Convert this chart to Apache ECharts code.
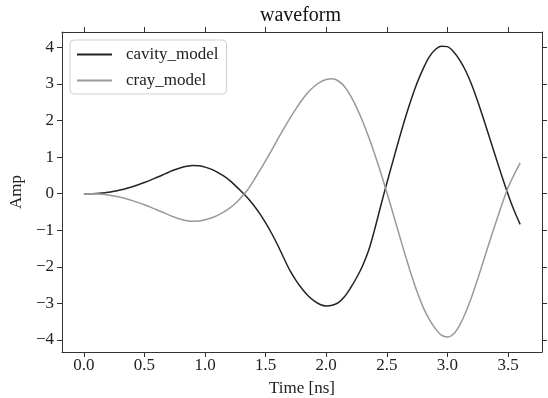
<!DOCTYPE html>
<html>
<head>
<meta charset="utf-8">
<script src="https://cdn.jsdelivr.net/npm/echarts@6/dist/echarts.min.js"></script>
<style>
  html, body { margin: 0; padding: 0; background: #fff; }
  #container { width: 548px; height: 398px; }
</style>
</head>
<body>
<div id="container"></div>
<script>
// 时间轴 (ns), 每 0.05 ns 一个点
var timeNs = [0.00, 0.05, 0.10, 0.15, 0.20, 0.25, 0.30, 0.35, 0.40, 0.45,
              0.50, 0.55, 0.60, 0.65, 0.70, 0.75, 0.80, 0.85, 0.90, 0.95,
              1.00, 1.05, 1.10, 1.15, 1.20, 1.25, 1.30, 1.35, 1.40, 1.45,
              1.50, 1.55, 1.60, 1.65, 1.70, 1.75, 1.80, 1.85, 1.90, 1.95,
              2.00, 2.05, 2.10, 2.15, 2.20, 2.25, 2.30, 2.35, 2.40, 2.45,
              2.50, 2.55, 2.60, 2.65, 2.70, 2.75, 2.80, 2.85, 2.90, 2.95,
              3.00, 3.05, 3.10, 3.15, 3.20, 3.25, 3.30, 3.35, 3.40, 3.45,
              3.50, 3.55, 3.60];
var cavityModel = [0.0, 0.0, 0.005, 0.015, 0.035, 0.065, 0.10, 0.14, 0.19, 0.245,
                   0.305, 0.37, 0.44, 0.51, 0.585, 0.655, 0.71, 0.75, 0.77, 0.76,
                   0.725, 0.67, 0.59, 0.49, 0.37, 0.22, 0.06, -0.11, -0.31, -0.54,
                   -0.80, -1.09, -1.41, -1.76, -2.10, -2.37, -2.60, -2.79, -2.93, -3.03,
                   -3.07, -3.05, -2.98, -2.82, -2.58, -2.30, -1.97, -1.55, -0.97, -0.33,
                   0.29, 0.89, 1.48, 2.05, 2.57, 3.03, 3.42, 3.74, 3.94, 4.03,
                   4.02, 3.88, 3.66, 3.36, 2.98, 2.52, 2.02, 1.50, 0.98, 0.47,
                   -0.02, -0.46, -0.84];
var crayModel = [0.0, 0.0, -0.005, -0.015, -0.035, -0.065, -0.10, -0.14, -0.19, -0.245,
                 -0.305, -0.37, -0.44, -0.51, -0.58, -0.645, -0.70, -0.74, -0.755, -0.745,
                 -0.715, -0.665, -0.60, -0.51, -0.40, -0.27, -0.10, 0.10, 0.35, 0.62,
                 0.90, 1.19, 1.49, 1.78, 2.06, 2.32, 2.56, 2.77, 2.93, 3.05,
                 3.12, 3.14, 3.08, 2.93, 2.68, 2.36, 1.98, 1.55, 1.08, 0.57,
                 0.03, -0.53, -1.10, -1.66, -2.20, -2.69, -3.11, -3.44, -3.69, -3.87,
                 -3.92, -3.84, -3.60, -3.25, -2.82, -2.33, -1.81, -1.29, -0.78, -0.29,
                 0.17, 0.52, 0.84];
var xTicks = [0.0, 0.5, 1.0, 1.5, 2.0, 2.5, 3.0, 3.5];
var yTicks = [-4, -3, -2, -1, 0, 1, 2, 3, 4];

var font = "'Liberation Serif', 'DejaVu Serif', serif";
var axisColor = '#333';

function pairs(xs, ys) {
    var res = [];
    for (var i = 0; i < xs.length; i++) {
        res.push([xs[i], ys[i]]);
    }
    return res;
}

// 坐标轴 (上下左右都画刻度)
function xAxisOf(pos, showLabel) {
    return {
        type: 'value',
        position: pos,
        min: -0.18,
        max: 3.78,
        name: showLabel ? 'Time [ns]' : '',
        nameLocation: 'middle',
        nameGap: 28,
        nameTextStyle: { fontFamily: font, fontSize: 17, color: '#222' },
        axisLine: { show: true, onZero: false, lineStyle: { color: axisColor, width: 1 } },
        axisTick: { show: true, length: 5, customValues: xTicks, lineStyle: { color: axisColor } },
        axisLabel: {
            show: showLabel,
            customValues: xTicks,
            margin: 5,
            fontFamily: font,
            fontSize: 17,
            color: '#222',
            formatter: function (v) { return v.toFixed(1); }
        },
        splitLine: { show: false }
    };
}

function yAxisOf(pos, showLabel) {
    return {
        type: 'value',
        position: pos,
        min: -4.33,
        max: 4.42,
        name: showLabel ? 'Amp' : '',
        nameLocation: 'middle',
        nameGap: 31,
        nameTextStyle: { fontFamily: font, fontSize: 17, color: '#222' },
        axisLine: { show: true, onZero: false, lineStyle: { color: axisColor, width: 1 } },
        axisTick: { show: true, length: 5, customValues: yTicks, lineStyle: { color: axisColor } },
        axisLabel: {
            show: showLabel,
            customValues: yTicks,
            margin: 8,
            fontFamily: font,
            fontSize: 17,
            color: '#222',
            formatter: function (v) { return String(v).replace('-', '\u2212'); }
        },
        splitLine: { show: false }
    };
}

var myChart = echarts.init(document.getElementById('container'));
var option = {
    backgroundColor: '#fff',
    animation: false,
    title: {
        text: 'waveform',
        left: 260,
        top: 6,
        padding: 0,
        textStyle: { fontFamily: font, fontSize: 20, fontWeight: 'normal', color: '#111' }
    },
    legend: {
        orient: 'vertical',
        left: 70,
        top: 40,
        padding: [6, 8, 5, 7],
        itemGap: 9,
        itemWidth: 35,
        itemHeight: 2,
        icon: 'rect',
        backgroundColor: '#fff',
        borderColor: '#d0d0d0',
        borderWidth: 1,
        borderRadius: 4,
        textStyle: { fontFamily: font, fontSize: 17, color: '#222', padding: [0, 0, 0, 9] },
        data: ['cavity_model', 'cray_model']
    },
    grid: {
        left: 62,
        right: 6,
        top: 32,
        bottom: 46,
        outerBoundsMode: 'none'
    },
    xAxis: [xAxisOf('bottom', true), xAxisOf('top', false)],
    yAxis: [yAxisOf('left', true), yAxisOf('right', false)],
    series: [
        {
            name: 'cavity_model',
            type: 'line',
            smooth: 0.3,
            symbol: 'none',
            color: '#222',
            lineStyle: { width: 1.5, color: '#222' },
            data: pairs(timeNs, cavityModel)
        },
        {
            name: 'cray_model',
            type: 'line',
            smooth: 0.3,
            symbol: 'none',
            color: '#999',
            lineStyle: { width: 1.5, color: '#999' },
            data: pairs(timeNs, crayModel)
        }
    ]
};
myChart.setOption(option, true);
</script>
</body>
</html>
